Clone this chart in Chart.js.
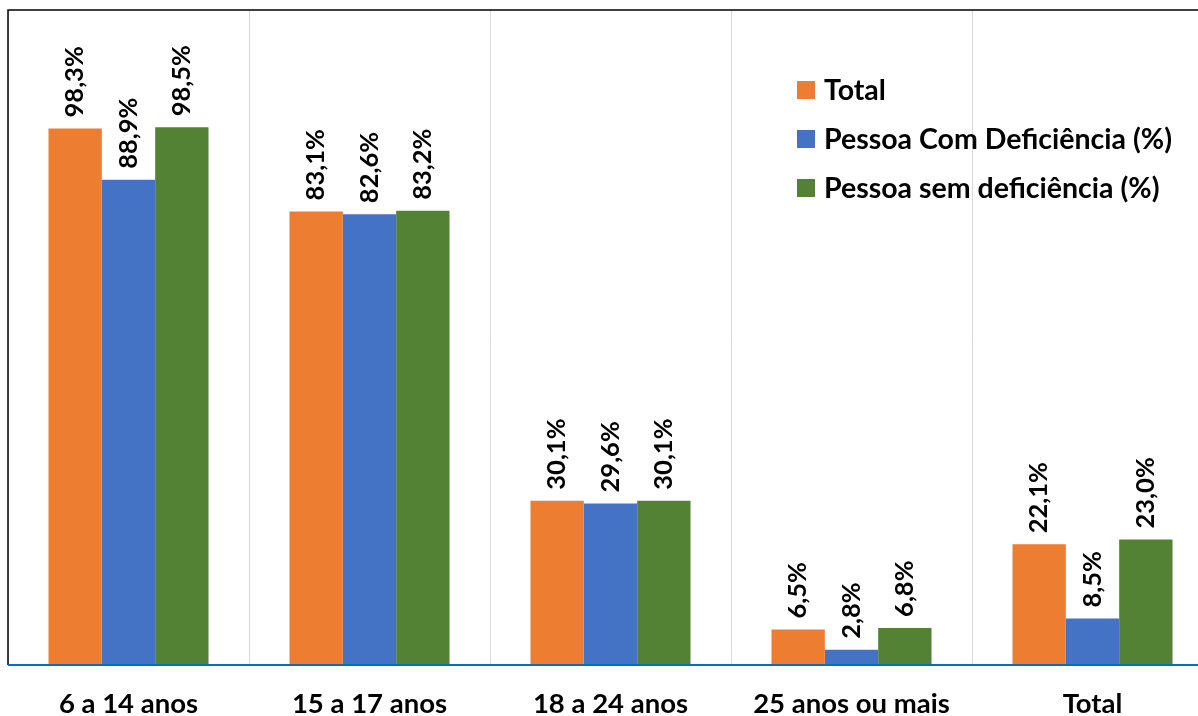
<!DOCTYPE html>
<html>
<head>
<meta charset="utf-8">
<script src="https://cdn.jsdelivr.net/npm/chart.js@4/dist/chart.umd.min.js"></script>
<style>
html,body{margin:0;padding:0;background:#fff;overflow:hidden;}
#wrap{width:1220px;height:716px;}
</style>
</head>
<body>
<div id="wrap"><canvas id="c" width="1220" height="716"></canvas></div>
<script>
const categories = ["6 a 14 anos", "15 a 17 anos", "18 a 24 anos", "25 anos ou mais", "Total"];
const seriesNames = ["Total", "Pessoa Com Deficiência (%)", "Pessoa sem deficiência (%)"];
const totalValues = [98.3, 83.1, 30.1, 6.5, 22.1];
const comDefValues = [88.9, 82.6, 29.6, 2.8, 8.5];
const semDefValues = [98.5, 83.2, 30.1, 6.8, 23.0];
const colors = ["#ED7D31", "#4472C4", "#548235"];
const FONT = "Lato, 'Open Sans', sans-serif";

const labelPlugin = {
  id: 'labels',
  afterDatasetsDraw(chart) {
    const ctx = chart.ctx;
    ctx.save();
    ctx.font = "bold 25.5px " + FONT;
    ctx.fillStyle = "#000";
    ctx.textAlign = "left";
    ctx.textBaseline = "middle";
    chart.data.datasets.forEach((ds, i) => {
      const meta = chart.getDatasetMeta(i);
      meta.data.forEach((bar, j) => {
        const txt = ds.data[j].toFixed(1).replace('.', ',') + '%';
        ctx.save();
        ctx.translate(bar.x, bar.y - 11);
        ctx.rotate(-Math.PI / 2);
        ctx.fillText(txt, 0, 0);
        ctx.restore();
      });
    });
    ctx.restore();
  }
};

const framePlugin = {
  id: 'frame',
  afterDraw(chart) {
    const a = chart.chartArea, ctx = chart.ctx;
    ctx.save();
    ctx.strokeStyle = "#000";
    ctx.lineWidth = 1.5;
    ctx.beginPath();
    ctx.moveTo(a.left, a.bottom);
    ctx.lineTo(a.left, a.top);
    ctx.lineTo(a.right, a.top);
    ctx.lineTo(a.right, a.bottom);
    ctx.stroke();
    ctx.strokeStyle = "#0070C0";
    ctx.lineWidth = 2;
    ctx.beginPath();
    ctx.moveTo(a.left, a.bottom);
    ctx.lineTo(a.right, a.bottom);
    ctx.stroke();
    // legend
    ctx.font = "bold 28.5px " + FONT;
    ctx.textAlign = "left";
    ctx.textBaseline = "middle";
    const lx = 797, ys = [90, 139, 188];
    chart.data.datasets.forEach((ds, i) => {
      ctx.fillStyle = ds.backgroundColor;
      ctx.fillRect(lx, ys[i] - 9, 18, 18);
      ctx.fillStyle = "#000";
      ctx.fillText(ds.label, lx + 27, ys[i] + 1);
    });
    ctx.restore();
  }
};

new Chart(document.getElementById('c'), {
  type: 'bar',
  data: {
    labels: categories,
    datasets: [
      { label: seriesNames[0], data: totalValues, backgroundColor: colors[0] },
      { label: seriesNames[1], data: comDefValues, backgroundColor: colors[1] },
      { label: seriesNames[2], data: semDefValues, backgroundColor: colors[2] }
    ]
  },
  options: {
    responsive: false,
    animation: false,
    layout: { padding: { left: 8, top: 10, right: 7, bottom: 0 } },
    datasets: { bar: { categoryPercentage: 0.664, barPercentage: 1.0 } },
    plugins: { legend: { display: false }, tooltip: { enabled: false } },
    scales: {
      x: {
        grid: { display: true, color: "#d9d9d9", lineWidth: 1, drawTicks: false, offset: true },
        border: { display: false },
        ticks: { color: "#000", font: { family: FONT, size: 27.5, weight: 'bold' }, padding: 23 },
        afterFit(scale) { scale.height = 51; }
      },
      y: {
        display: false,
        min: 0, max: 120
      }
    }
  },
  plugins: [labelPlugin, framePlugin]
});
</script>
</body>
</html>
